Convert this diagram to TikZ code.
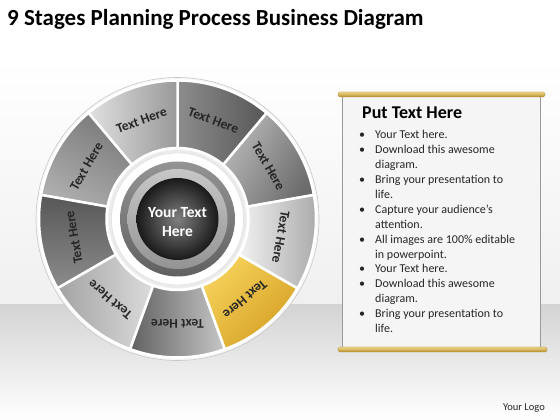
\documentclass[tikz,border=0pt]{standalone}
\usepackage{fontspec}
\setmainfont{Carlito}
\definecolor{goldhi}{HTML}{EDD68A}
\definecolor{goldlo}{HTML}{B8902E}
\definecolor{segyel}{HTML}{F6D15A}
\definecolor{segyeldk}{HTML}{D4A024}
\tikzset{segtext/.style={font=\bfseries\fontsize{13.5}{15}\selectfont,text=black!85,inner sep=0pt},
         goldbar/.style={rounded corners=1.5pt,top color=goldhi,bottom color=goldlo,draw=goldlo!85!black,line width=0.3pt},
         listline/.style={anchor=base west,font=\fontsize{12}{14}\selectfont,text=black!85,inner sep=0pt}}

\begin{document}
\begin{tikzpicture}[x=1pt,y=1pt]
                  \useasboundingbox (0,0) rectangle (560,420);
                  \fill[white] (0,0) rectangle (560,420);
                  \shade[top color=white,bottom color=black!6] (0,115) rectangle (560,360);
                  \shade[top color=black!17,bottom color=white] (0,0) rectangle (560,115);
                  \node[anchor=base west,inner sep=0pt,font=\bfseries\fontsize{23}{26}\selectfont] (title) at (7,394) {9 Stages Planning Process Business Diagram};
                  \begin{scope}[shift={(177.5,201)}]
                    \fill[black!3] (0,0) circle (141.5);
                    \draw[black!22,line width=0.6pt] (0,0) circle (141.5);
                    \foreach \a/\ca/\cb/\d [count=\i, evaluate=\d as \sa using \d-90] in
                      {30/black!28/black!58/150, 70/black!45/black!66/180, 110/black!12/black!40/180,
                       150/black!32/black!52/240, 190/black!66/black!45/90, 230/black!14/black!36/0,
                       270/black!62/black!22/180, 310/segyel/segyeldk/135, 350/black!5/black!34/180}{
                      \shadedraw[top color=\ca,bottom color=\cb,shading angle=\sa,draw=white,line width=2.5pt]
                        (\a-20:71) -- (\a-20:138.5) arc[start angle=\a-20,end angle=\a+20,radius=138.5]
                        -- (\a+20:71) arc[start angle=\a+20,end angle=\a-20,radius=71] -- cycle;
                      \node[segtext,rotate=\a-90] (seg\i) at (\a:105) {Text Here};
                    }
                    \fill[black!8] (0,0) circle (69);
                    \fill[white] (0,0) circle (66);
                    \draw[black!15] (0,0) circle (66);
                    \shade[top color=black!42,bottom color=black!62] (0,0) circle (57.5);
                    \shade[top color=black!22,bottom color=black!42] (0,0) circle (50);
                    \shade[inner color=black!50,outer color=black!90] (0,0) circle (41);
                    \node[white,align=center,font=\bfseries\fontsize{15.5}{19}\selectfont] (hub) at (0,-3) {Your Text\\Here};
                  \end{scope}
                  \fill[black!4] (342,72) rectangle (541,325);
                  \draw[black!40,line width=1.2pt] (342.6,72) -- (342.6,325);
                  \draw[black!40,line width=1.2pt] (540.4,72) -- (540.4,325);
                  \draw[goldbar] (338,323) rectangle (545,328);
                  \draw[goldbar] (338,68) rectangle (547,73);
                  \node[anchor=base west,inner sep=0pt,font=\bfseries\fontsize{18}{20}\selectfont] (head) at (362,301) {Put Text Here};
                  \foreach \b/\t [count=\i] in {1/Your Text here., 1/Download this awesome, 0/diagram.,
                      1/Bring your presentation to, 0/life., 1/Capture your audience’s, 0/attention.,
                      1/All images are 100\% editable, 0/in powerpoint., 1/Your Text here.,
                      1/Download this awesome, 0/diagram., 1/Bring your presentation to, 0/life.}{
                    \node[listline] (ln\i) at (375,{281-14.88*(\i-1)}) {\t};
                    \ifnum\b=1 \node[listline] (bu\i) at (359,{281-14.88*(\i-1)}) {•}; \fi
                  }
                  \node[anchor=base east,inner sep=0pt,font=\fontsize{10.5}{12}\selectfont,text=black!85] (logo) at (545,9) {Your Logo};
              \end{tikzpicture}
\end{document}
